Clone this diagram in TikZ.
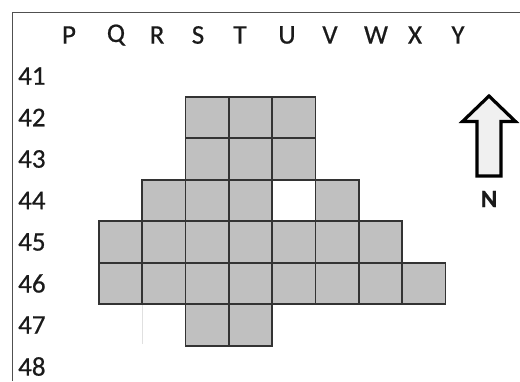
\documentclass[tikz,border=0pt]{standalone}
\usepackage{fontspec}
\setmainfont{Carlito}[FakeBold=0.6]
\newfontfamily\nfont{Carlito}[FakeBold=0.8]
\definecolor{cellgray}{HTML}{C0C0C0}
\definecolor{cellline}{HTML}{333333}
\definecolor{framegray}{HTML}{505050}
\definecolor{txt}{HTML}{1A1A1A}
\definecolor{arrowfill}{HTML}{F0F0F0}
\begin{document}
\begin{tikzpicture}[x=1pt,y=-1pt,
  cell/.style={fill=cellgray,draw=cellline,line width=1.7pt},
  lab/.style={text=txt,font=\fontsize{27}{27}\selectfont,inner sep=0pt},
  rowlab/.style={lab,anchor=west}]
\useasboundingbox (0,0) rectangle (520,381);
% frame
\draw[framegray,line width=1.6pt] (12.5,381) -- (12.5,12.5) -- (520,12.5);
% column letters
\foreach \l/\x in {P/69,Q/116,R/157,S/198,T/240,U/287,V/330,W/376,X/415,Y/458}
  \node[lab] (c\l) at (\x,35) {\l};
% row numbers
\foreach \n [count=\i from 0] in {41,42,43,44,45,46,47,48}
  \node[rowlab] (r\n) at (18,{76+41.5*\i}) {\n};
% cells: (column index from Q, row index from 42)
\foreach \c/\r in {2/0,3/0,4/0, 2/1,3/1,4/1, 1/2,2/2,3/2,5/2,
  0/3,1/3,2/3,3/3,4/3,5/3,6/3, 0/4,1/4,2/4,3/4,4/4,5/4,6/4,7/4, 2/5,3/5}
  \draw[cell] ({99+43.3*\c},{96.7+41.5*\r}) rectangle ++(43.3,41.5);
% faint line
\draw[black!12,line width=0.8pt] (142.3,305) -- (142.3,344);
% north arrow
\draw[fill=arrowfill,line width=3.2pt,line join=miter]
  (489,96) -- (515.5,121.5) -- (501,121.5) -- (501,176) -- (477,176)
  -- (477,121.5) -- (462.5,121.5) -- cycle;
\node[text=txt,font=\nfont\bfseries\fontsize{25}{25}\selectfont,inner sep=0pt] (N) at (489,199) {N};
\end{tikzpicture}
\end{document}
